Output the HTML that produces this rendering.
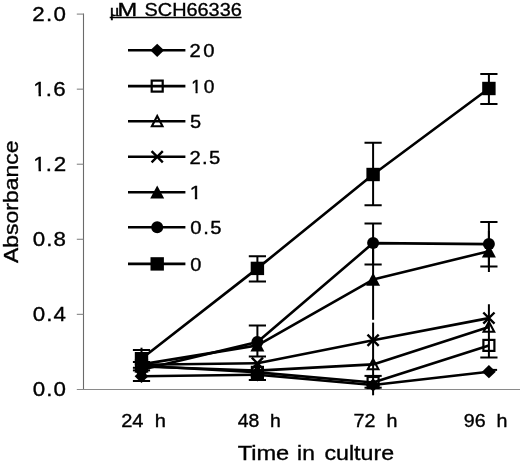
<!DOCTYPE html>
<html><head><meta charset="utf-8"><title>chart</title>
<style>
html,body{margin:0;padding:0;background:#fff;}
body{width:520px;height:464px;overflow:hidden;}
svg{display:block;will-change:transform;}
text{font-family:"Liberation Sans",sans-serif;fill:#000;stroke:#000;stroke-width:0.35px;}
</style></head><body>
<svg width="520" height="464" viewBox="0 0 520 464">
<rect width="520" height="464" fill="#fff"/>
<defs><clipPath id="c1"><rect x="-2" y="-20.30" width="12.76" height="17.76"/><rect x="4.87" y="-2.84" width="2.23" height="4.06"/></clipPath><clipPath id="c2"><rect x="-2" y="-20.30" width="12.76" height="17.76"/><rect x="4.87" y="-2.84" width="2.23" height="4.06"/></clipPath><clipPath id="c3"><rect x="-2" y="-17.60" width="11.33" height="15.40"/><rect x="4.22" y="-2.46" width="1.94" height="3.52"/></clipPath><clipPath id="c4"><rect x="-2" y="-17.60" width="11.33" height="15.40"/><rect x="4.22" y="-2.46" width="1.94" height="3.52"/></clipPath></defs>
<path d="M83.5 13.6 L83.5 389.4" stroke="#6a6a6a" stroke-width="1.1" fill="none"/>
<path d="M76.8 389.5 L520 389.5" stroke="#8a8a8a" stroke-width="1.1" fill="none"/>
<path d="M76.8 314.34 L83.5 314.34" stroke="#858585" stroke-width="1.1" fill="none"/>
<path d="M76.8 239.28 L83.5 239.28" stroke="#858585" stroke-width="1.1" fill="none"/>
<path d="M76.8 164.22 L83.5 164.22" stroke="#858585" stroke-width="1.1" fill="none"/>
<path d="M76.8 89.16 L83.5 89.16" stroke="#858585" stroke-width="1.1" fill="none"/>
<path d="M76.8 14.1 L83.5 14.1" stroke="#858585" stroke-width="1.1" fill="none"/>
<text transform="translate(32.18 21.10) scale(1.1000 1)" font-size="20.3" letter-spacing="1.260" >2.0</text>
<text transform="translate(33.31 96.16) scale(1.0858 1)" font-size="20.3" clip-path="url(#c1)" >1</text>
<text transform="translate(45.79 96.16) scale(1.1000 1)" font-size="20.3" letter-spacing="1.154" >.6</text>
<text transform="translate(33.31 171.22) scale(1.0858 1)" font-size="20.3" clip-path="url(#c2)" >1</text>
<text transform="translate(45.79 171.22) scale(1.1000 1)" font-size="20.3" letter-spacing="1.528" >.2</text>
<text transform="translate(32.71 246.28) scale(1.1000 1)" font-size="20.3" letter-spacing="0.976" >0.8</text>
<text transform="translate(32.71 321.34) scale(1.1000 1)" font-size="20.3" letter-spacing="0.966" >0.4</text>
<text transform="translate(32.71 396.40) scale(1.1000 1)" font-size="20.3" letter-spacing="1.022" >0.0</text>
<text transform="translate(121.20 427.40) scale(1.0981 1)" font-size="18.3" xml:space="preserve">24  h</text>
<text transform="translate(237.71 427.40) scale(1.0622 1)" font-size="18.3" xml:space="preserve">48  h</text>
<text transform="translate(353.51 427.40) scale(1.0774 1)" font-size="18.3" xml:space="preserve">72  h</text>
<text transform="translate(463.71 427.40) scale(1.0748 1)" font-size="18.3" xml:space="preserve">96  h</text>
<text transform="translate(237.63 460.00) scale(1.1699 1)" font-size="20.2" >Time</text>
<text transform="translate(297.12 460.00) scale(1.1283 1)" font-size="20.2" >in</text>
<text transform="translate(324.46 460.00) scale(1.1483 1)" font-size="20.2" >culture</text>
<text transform="translate(18.00 263.12) rotate(-90) scale(1.1279 1)" font-size="20.4">Absorbance</text>
<text transform="translate(117.61 15.60) scale(1.3248 1)" font-size="17.8" >M</text>
<text transform="translate(144.50 15.60) scale(1.1189 1)" font-size="17.8" >SCH66336</text>
<text transform="translate(109.6 15.5) scale(1.1 1)" font-family="Liberation Serif" style="font-family:'Liberation Serif',serif" font-size="17.5">&#956;</text>
<path d="M109.7 17.5 L241.6 17.5" stroke="#000" stroke-width="1.4"/>
<path d="M128 50.30 L185.4 50.30" stroke="#000" stroke-width="2.6"/>
<path d="M157.20 43.70 L164.10 50.30 L157.20 56.90 L150.30 50.30 Z" fill="#000"/>
<text transform="translate(189.39 57.20) scale(1.1500 1)" font-size="17.6" letter-spacing="2.309" >20</text>
<path d="M128 86.10 L185.4 86.10" stroke="#000" stroke-width="2.6"/>
<rect x="151.70" y="80.60" width="11.0" height="11.0" fill="none" stroke="#000" stroke-width="2.2"/>
<text transform="translate(191.29 93.00) scale(1.0204 1)" font-size="17.6" clip-path="url(#c3)" >1</text>
<text transform="translate(203.83 93.00) scale(1.0885 1)" font-size="17.6" >0</text>
<path d="M128 121.30 L185.4 121.30" stroke="#000" stroke-width="2.6"/>
<path d="M157.20 116.10 L162.50 126.20 L151.90 126.20 Z" fill="none" stroke="#000" stroke-width="2.1" stroke-linejoin="miter"/>
<text transform="translate(190.10 128.20) scale(1.1364 1)" font-size="17.6" >5</text>
<path d="M128 156.80 L185.4 156.80" stroke="#000" stroke-width="2.6"/>
<path d="M151.60 151.20 L162.80 162.40 M151.60 162.40 L162.80 151.20" stroke="#000" stroke-width="2.4" fill="none"/>
<text transform="translate(189.39 163.70) scale(1.1500 1)" font-size="17.6" letter-spacing="1.169" >2.5</text>
<path d="M128 192.30 L185.4 192.30" stroke="#000" stroke-width="2.6"/>
<path d="M157.20 185.50 L164.20 198.50 L150.20 198.50 Z" fill="#000"/>
<text transform="translate(189.78 199.20) scale(1.2059 1)" font-size="17.6" clip-path="url(#c4)" >1</text>
<path d="M128 227.20 L185.4 227.20" stroke="#000" stroke-width="2.6"/>
<circle cx="157.20" cy="227.20" r="6" fill="#000"/>
<text transform="translate(190.29 234.10) scale(1.1500 1)" font-size="17.6" letter-spacing="1.385" >0.5</text>
<path d="M128 263.90 L185.4 263.90" stroke="#000" stroke-width="2.6"/>
<rect x="150.50" y="257.20" width="13.4" height="13.4" fill="#000"/>
<text transform="translate(190.30 270.80) scale(1.1364 1)" font-size="17.6" >0</text>
<path d="M141.50 349.90 L141.50 381.10 M132.90 349.90 L150.10 349.90 M132.90 381.10 L150.10 381.10" stroke="#000" stroke-width="2.0" fill="none"/>
<path d="M141.50 347.70 L141.50 351.00" stroke="#000" stroke-width="2.0" fill="none"/>
<path d="M257.40 256.20 L257.40 281.40 M248.80 256.20 L266.00 256.20 M248.80 281.40 L266.00 281.40" stroke="#000" stroke-width="2.0" fill="none"/>
<path d="M257.40 325.40 L257.40 356.40 M248.80 325.40 L266.00 325.40 M248.80 356.40 L266.00 356.40" stroke="#000" stroke-width="2.0" fill="none"/>
<path d="M257.40 362.00 L257.40 380.00 M248.80 380.00 L266.00 380.00" stroke="#000" stroke-width="2.0" fill="none"/>
<path d="M373.10 142.80 L373.10 205.20 M364.50 142.80 L381.70 142.80 M364.50 205.20 L381.70 205.20" stroke="#000" stroke-width="2.0" fill="none"/>
<path d="M373.10 223.40 L373.10 264.50 M364.50 223.40 L381.70 223.40 M364.50 264.50 L381.70 264.50" stroke="#000" stroke-width="2.0" fill="none"/>
<path d="M373.10 240.00 L373.10 319.80" stroke="#000" stroke-width="2.0" fill="none"/>
<path d="M373.10 322.60 L373.10 395.30" stroke="#000" stroke-width="2.0" fill="none"/>
<path d="M488.90 74.10 L488.90 104.00 M480.30 74.10 L497.50 74.10 M480.30 104.00 L497.50 104.00" stroke="#000" stroke-width="2.0" fill="none"/>
<path d="M488.90 222.00 L488.90 266.40 M480.30 222.00 L497.50 222.00 M480.30 266.40 L497.50 266.40" stroke="#000" stroke-width="2.0" fill="none"/>
<path d="M488.90 231.00 L488.90 272.00" stroke="#000" stroke-width="2.0" fill="none"/>
<path d="M488.90 304.30 L488.90 357.50 M480.30 357.50 L497.50 357.50" stroke="#000" stroke-width="2.0" fill="none"/>
<path d="M132.90 362.00 L150.10 362.00" stroke="#000" stroke-width="2.0"/>
<path d="M132.90 367.80 L150.10 367.80" stroke="#000" stroke-width="2.0"/>
<path d="M132.90 370.40 L150.10 370.40" stroke="#000" stroke-width="2.0"/>
<path d="M364.50 375.90 L381.70 375.90" stroke="#000" stroke-width="2.0"/>
<path d="M364.50 387.70 L381.70 387.70" stroke="#000" stroke-width="2.0"/>
<path d="M488.90 369.90 L497.10 369.90" stroke="#000" stroke-width="2.0"/>
<polyline points="141.50,376.30 257.40,374.80 373.10,385.00 488.90,371.70" stroke="#000" stroke-width="2.6" fill="none" stroke-linejoin="round"/>
<polyline points="141.50,365.70 257.40,372.40 373.10,382.50 488.90,345.40" stroke="#000" stroke-width="2.6" fill="none" stroke-linejoin="round"/>
<polyline points="141.50,366.50 257.40,370.60 373.10,364.40 488.90,326.90" stroke="#000" stroke-width="2.6" fill="none" stroke-linejoin="round"/>
<polyline points="141.50,364.80 257.40,363.30 373.10,340.30 488.90,318.10" stroke="#000" stroke-width="2.6" fill="none" stroke-linejoin="round"/>
<polyline points="141.50,364.40 257.40,345.40 373.10,279.60 488.90,251.20" stroke="#000" stroke-width="2.6" fill="none" stroke-linejoin="round"/>
<polyline points="141.50,369.70 257.40,342.00 373.10,243.10 488.90,244.10" stroke="#000" stroke-width="2.6" fill="none" stroke-linejoin="round"/>
<polyline points="141.50,358.70 257.40,268.40 373.10,174.50 488.90,88.50" stroke="#000" stroke-width="2.6" fill="none" stroke-linejoin="round"/>
<path d="M141.50 369.70 L148.40 376.30 L141.50 382.90 L134.60 376.30 Z" fill="#000"/>
<path d="M257.40 368.20 L264.30 374.80 L257.40 381.40 L250.50 374.80 Z" fill="#000"/>
<path d="M373.10 378.40 L380.00 385.00 L373.10 391.60 L366.20 385.00 Z" fill="#000"/>
<path d="M488.90 365.10 L495.80 371.70 L488.90 378.30 L482.00 371.70 Z" fill="#000"/>
<rect x="136.00" y="360.20" width="11.0" height="11.0" fill="none" stroke="#000" stroke-width="2.2"/>
<rect x="251.90" y="366.90" width="11.0" height="11.0" fill="none" stroke="#000" stroke-width="2.2"/>
<rect x="367.60" y="377.00" width="11.0" height="11.0" fill="none" stroke="#000" stroke-width="2.2"/>
<rect x="483.40" y="339.90" width="11.0" height="11.0" fill="none" stroke="#000" stroke-width="2.2"/>
<path d="M141.50 361.30 L146.80 371.40 L136.20 371.40 Z" fill="none" stroke="#000" stroke-width="2.1" stroke-linejoin="miter"/>
<path d="M257.40 365.40 L262.70 375.50 L252.10 375.50 Z" fill="none" stroke="#000" stroke-width="2.1" stroke-linejoin="miter"/>
<path d="M373.10 359.20 L378.40 369.30 L367.80 369.30 Z" fill="none" stroke="#000" stroke-width="2.1" stroke-linejoin="miter"/>
<path d="M488.90 321.70 L494.20 331.80 L483.60 331.80 Z" fill="none" stroke="#000" stroke-width="2.1" stroke-linejoin="miter"/>
<path d="M135.90 359.20 L147.10 370.40 M135.90 370.40 L147.10 359.20" stroke="#000" stroke-width="2.4" fill="none"/>
<path d="M251.80 357.70 L263.00 368.90 M251.80 368.90 L263.00 357.70" stroke="#000" stroke-width="2.4" fill="none"/>
<path d="M367.50 334.70 L378.70 345.90 M367.50 345.90 L378.70 334.70" stroke="#000" stroke-width="2.4" fill="none"/>
<path d="M483.30 312.50 L494.50 323.70 M483.30 323.70 L494.50 312.50" stroke="#000" stroke-width="2.4" fill="none"/>
<path d="M141.50 357.60 L148.50 370.60 L134.50 370.60 Z" fill="#000"/>
<path d="M257.40 338.60 L264.40 351.60 L250.40 351.60 Z" fill="#000"/>
<path d="M373.10 272.80 L380.10 285.80 L366.10 285.80 Z" fill="#000"/>
<path d="M488.90 244.40 L495.90 257.40 L481.90 257.40 Z" fill="#000"/>
<circle cx="141.50" cy="369.70" r="6" fill="#000"/>
<circle cx="257.40" cy="342.00" r="6" fill="#000"/>
<circle cx="373.10" cy="243.10" r="6" fill="#000"/>
<circle cx="488.90" cy="244.10" r="6" fill="#000"/>
<rect x="134.80" y="352.00" width="13.4" height="13.4" fill="#000"/>
<rect x="250.70" y="261.70" width="13.4" height="13.4" fill="#000"/>
<rect x="366.40" y="167.80" width="13.4" height="13.4" fill="#000"/>
<rect x="482.20" y="81.80" width="13.4" height="13.4" fill="#000"/>
</svg></body></html>
